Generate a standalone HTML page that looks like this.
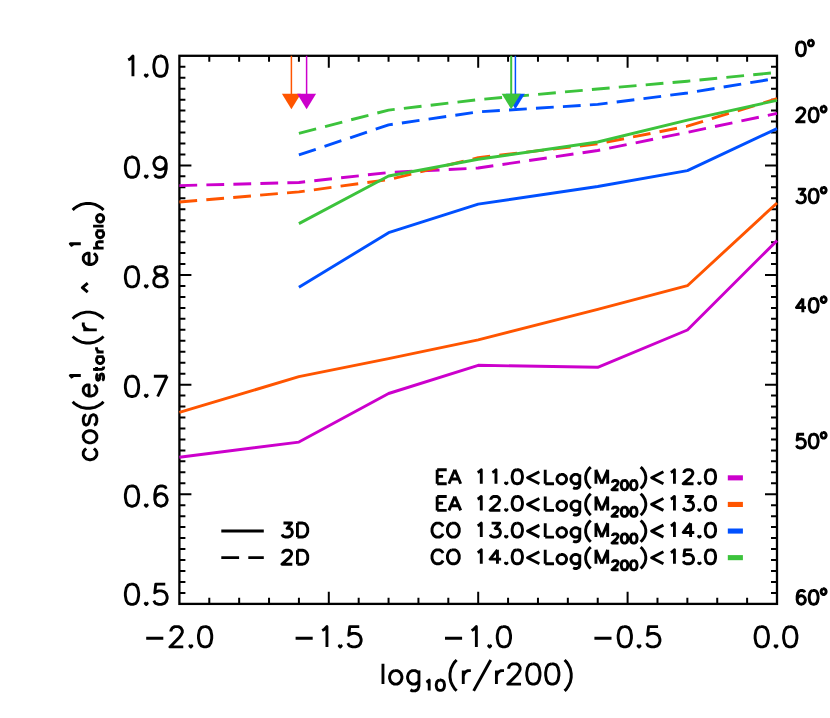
<!DOCTYPE html>
<html><head><meta charset="utf-8"><title>plot</title>
<style>html,body{margin:0;padding:0;background:#fff;font-family:"Liberation Sans",sans-serif;}svg{display:block}</style></head>
<body>
<svg width="830" height="718" viewBox="0 0 830 718">
<rect width="830" height="718" fill="#fff"/>
<clipPath id="cp"><rect x="178.2" y="54.6" width="600.0" height="550.5"/></clipPath>
<g fill="none" stroke="#000" stroke-width="2.3" stroke-linecap="butt">
<rect x="179.4" y="55.8" width="597.6" height="548.1"/>
<path stroke-width="2.0" d="M209.28 603.85 v-6.0 M209.28 55.80 v6.0 M239.16 603.85 v-6.0 M239.16 55.80 v6.0 M269.04 603.85 v-6.0 M269.04 55.80 v6.0 M298.92 603.85 v-6.0 M298.92 55.80 v6.0 M328.80 603.85 v-12.0 M328.80 55.80 v12.0 M358.68 603.85 v-6.0 M358.68 55.80 v6.0 M388.56 603.85 v-6.0 M388.56 55.80 v6.0 M418.44 603.85 v-6.0 M418.44 55.80 v6.0 M448.32 603.85 v-6.0 M448.32 55.80 v6.0 M478.20 603.85 v-12.0 M478.20 55.80 v12.0 M508.08 603.85 v-6.0 M508.08 55.80 v6.0 M537.96 603.85 v-6.0 M537.96 55.80 v6.0 M567.84 603.85 v-6.0 M567.84 55.80 v6.0 M597.72 603.85 v-6.0 M597.72 55.80 v6.0 M627.60 603.85 v-12.0 M627.60 55.80 v12.0 M657.48 603.85 v-6.0 M657.48 55.80 v6.0 M687.36 603.85 v-6.0 M687.36 55.80 v6.0 M717.24 603.85 v-6.0 M717.24 55.80 v6.0 M747.12 603.85 v-6.0 M747.12 55.80 v6.0 M179.40 66.76 h6.0 M777.00 66.76 h-6.0 M179.40 77.72 h6.0 M777.00 77.72 h-6.0 M179.40 88.68 h6.0 M777.00 88.68 h-6.0 M179.40 99.64 h6.0 M777.00 99.64 h-6.0 M179.40 110.61 h6.0 M777.00 110.61 h-6.0 M179.40 121.57 h6.0 M777.00 121.57 h-6.0 M179.40 132.53 h6.0 M777.00 132.53 h-6.0 M179.40 143.49 h6.0 M777.00 143.49 h-6.0 M179.40 154.45 h6.0 M777.00 154.45 h-6.0 M179.40 165.41 h12.0 M777.00 165.41 h-12.0 M179.40 176.37 h6.0 M777.00 176.37 h-6.0 M179.40 187.33 h6.0 M777.00 187.33 h-6.0 M179.40 198.29 h6.0 M777.00 198.29 h-6.0 M179.40 209.25 h6.0 M777.00 209.25 h-6.0 M179.40 220.22 h6.0 M777.00 220.22 h-6.0 M179.40 231.18 h6.0 M777.00 231.18 h-6.0 M179.40 242.14 h6.0 M777.00 242.14 h-6.0 M179.40 253.10 h6.0 M777.00 253.10 h-6.0 M179.40 264.06 h6.0 M777.00 264.06 h-6.0 M179.40 275.02 h12.0 M777.00 275.02 h-12.0 M179.40 285.98 h6.0 M777.00 285.98 h-6.0 M179.40 296.94 h6.0 M777.00 296.94 h-6.0 M179.40 307.90 h6.0 M777.00 307.90 h-6.0 M179.40 318.86 h6.0 M777.00 318.86 h-6.0 M179.40 329.83 h6.0 M777.00 329.83 h-6.0 M179.40 340.79 h6.0 M777.00 340.79 h-6.0 M179.40 351.75 h6.0 M777.00 351.75 h-6.0 M179.40 362.71 h6.0 M777.00 362.71 h-6.0 M179.40 373.67 h6.0 M777.00 373.67 h-6.0 M179.40 384.63 h12.0 M777.00 384.63 h-12.0 M179.40 395.59 h6.0 M777.00 395.59 h-6.0 M179.40 406.55 h6.0 M777.00 406.55 h-6.0 M179.40 417.51 h6.0 M777.00 417.51 h-6.0 M179.40 428.47 h6.0 M777.00 428.47 h-6.0 M179.40 439.44 h6.0 M777.00 439.44 h-6.0 M179.40 450.40 h6.0 M777.00 450.40 h-6.0 M179.40 461.36 h6.0 M777.00 461.36 h-6.0 M179.40 472.32 h6.0 M777.00 472.32 h-6.0 M179.40 483.28 h6.0 M777.00 483.28 h-6.0 M179.40 494.24 h12.0 M777.00 494.24 h-12.0 M179.40 505.20 h6.0 M777.00 505.20 h-6.0 M179.40 516.16 h6.0 M777.00 516.16 h-6.0 M179.40 527.12 h6.0 M777.00 527.12 h-6.0 M179.40 538.08 h6.0 M777.00 538.08 h-6.0 M179.40 549.05 h6.0 M777.00 549.05 h-6.0 M179.40 560.01 h6.0 M777.00 560.01 h-6.0 M179.40 570.97 h6.0 M777.00 570.97 h-6.0 M179.40 581.93 h6.0 M777.00 581.93 h-6.0 M179.40 592.89 h6.0 M777.00 592.89 h-6.0"/>
</g>
<g fill="none" stroke-width="2.9" stroke-linejoin="round" stroke-linecap="butt" clip-path="url(#cp)">
<path stroke="#CC00CC" d="M179.4 457.3 L298.9 442.1 L388.6 393.5 L478.2 365.3 L597.7 367.3 L687.4 330.0 L777.0 240.6"/>
<path stroke="#CC00CC" stroke-dasharray="17.8 9.2" d="M179.4 185.6 L298.9 182.5 L388.6 172.5 L478.2 168.0 L597.7 150.5 L687.4 132.3 L777.0 113.4"/>
<path stroke="#FF5500" d="M179.4 412.4 L298.9 376.7 L388.6 358.7 L478.2 339.9 L597.7 309.3 L687.4 285.7 L777.0 203.0"/>
<path stroke="#FF5500" stroke-dasharray="17.8 9.2" d="M179.4 202.0 L298.9 191.9 L388.6 179.6 L478.2 157.7 L597.7 143.9 L687.4 126.2 L777.0 98.7"/>
<path stroke="#0050FF" d="M298.9 287.3 L388.6 232.7 L478.2 204.1 L597.7 186.5 L687.4 170.6 L777.0 128.6"/>
<path stroke="#0050FF" stroke-dasharray="17.8 9.2" d="M298.9 154.9 L388.6 124.9 L478.2 111.9 L597.7 104.4 L687.4 93.0 L777.0 78.3"/>
<path stroke="#3CC33C" d="M298.9 223.6 L388.6 176.0 L478.2 159.3 L597.7 142.0 L687.4 120.1 L777.0 100.3"/>
<path stroke="#3CC33C" stroke-dasharray="17.8 9.2" d="M298.9 133.3 L388.6 110.1 L478.2 99.7 L597.7 89.0 L687.4 81.2 L777.0 72.4"/>
</g>
<path d="M291.4 55.8 V95" stroke="#FF5500" stroke-width="1.5" fill="none"/>
<path d="M281.9 93.8 h19 l-9.5 15.5 z" fill="#FF5500"/>
<path d="M306.6 55.8 V95" stroke="#CC00CC" stroke-width="1.5" fill="none"/>
<path d="M297.1 93.8 h19 l-9.5 15.5 z" fill="#CC00CC"/>
<path d="M515.4 55.8 V95" stroke="#0050FF" stroke-width="1.5" fill="none"/>
<path d="M505.9 93.8 h19 l-9.5 15.5 z" fill="#0050FF"/>
<path d="M511.2 55.8 V95" stroke="#3CC33C" stroke-width="2.0" fill="none"/>
<path d="M501.7 93.8 h19 l-9.5 15.5 z" fill="#3CC33C"/>
<rect x="727.8" y="475.3" width="15.1" height="5.1" fill="#CC00CC"/>
<rect x="727.8" y="501.9" width="15.1" height="5.1" fill="#FF5500"/>
<rect x="727.8" y="528.5" width="15.1" height="5.1" fill="#0050FF"/>
<rect x="727.8" y="555.1" width="15.1" height="5.1" fill="#3CC33C"/>
<path d="M221.3 531.0 H263.8" stroke="#000" stroke-width="2.9" fill="none"/>
<path d="M221.3 557.6 H263.8" stroke="#000" stroke-width="2.9" stroke-dasharray="17.8 9.2" fill="none"/>
<path fill="none" stroke="#000" stroke-width="2.9" stroke-linecap="butt" stroke-linejoin="round" d="M128.20 59.89 L130.10 58.93 L132.95 56.03 L132.95 76.30 M146.25 74.37 L145.30 75.33 L146.25 76.30 L147.20 75.33 L146.25 74.37 M159.55 56.03 L156.70 57.00 L154.80 59.89 L153.85 64.72 L153.85 67.61 L154.80 72.44 L156.70 75.33 L159.55 76.30 L161.45 76.30 L164.30 75.33 L166.20 72.44 L167.15 67.61 L167.15 64.72 L166.20 59.89 L164.30 57.00 L161.45 56.03 L159.55 56.03 M131.05 157.04 L128.20 158.00 L126.30 160.90 L125.35 165.72 L125.35 168.62 L126.30 173.44 L128.20 176.34 L131.05 177.30 L132.95 177.30 L135.80 176.34 L137.70 173.44 L138.65 168.62 L138.65 165.72 L137.70 160.90 L135.80 158.00 L132.95 157.04 L131.05 157.04 M146.25 175.37 L145.30 176.34 L146.25 177.30 L147.20 176.34 L146.25 175.37 M166.20 163.79 L165.25 166.69 L163.35 168.62 L160.50 169.58 L159.55 169.58 L156.70 168.62 L154.80 166.69 L153.85 163.79 L153.85 162.83 L154.80 159.93 L156.70 158.00 L159.55 157.04 L160.50 157.04 L163.35 158.00 L165.25 159.93 L166.20 163.79 L166.20 168.62 L165.25 173.44 L163.35 176.34 L160.50 177.30 L158.60 177.30 L155.75 176.34 L154.80 174.41 M131.05 266.63 L128.20 267.60 L126.30 270.50 L125.35 275.32 L125.35 278.21 L126.30 283.04 L128.20 285.94 L131.05 286.90 L132.95 286.90 L135.80 285.94 L137.70 283.04 L138.65 278.21 L138.65 275.32 L137.70 270.50 L135.80 267.60 L132.95 266.63 L131.05 266.63 M146.25 284.97 L145.30 285.94 L146.25 286.90 L147.20 285.94 L146.25 284.97 M158.60 266.63 L155.75 267.60 L154.80 269.53 L154.80 271.46 L155.75 273.39 L157.65 274.35 L161.45 275.32 L164.30 276.28 L166.20 278.21 L167.15 280.14 L167.15 283.04 L166.20 284.97 L165.25 285.94 L162.40 286.90 L158.60 286.90 L155.75 285.94 L154.80 284.97 L153.85 283.04 L153.85 280.14 L154.80 278.21 L156.70 276.28 L159.55 275.32 L163.35 274.35 L165.25 273.39 L166.20 271.46 L166.20 269.53 L165.25 267.60 L162.40 266.63 L158.60 266.63 M131.05 376.24 L128.20 377.20 L126.30 380.10 L125.35 384.92 L125.35 387.81 L126.30 392.64 L128.20 395.54 L131.05 396.50 L132.95 396.50 L135.80 395.54 L137.70 392.64 L138.65 387.81 L138.65 384.92 L137.70 380.10 L135.80 377.20 L132.95 376.24 L131.05 376.24 M146.25 394.57 L145.30 395.54 L146.25 396.50 L147.20 395.54 L146.25 394.57 M167.15 376.24 L157.65 396.50 M153.85 376.24 L167.15 376.24 M131.05 485.94 L128.20 486.90 L126.30 489.79 L125.35 494.62 L125.35 497.51 L126.30 502.34 L128.20 505.24 L131.05 506.20 L132.95 506.20 L135.80 505.24 L137.70 502.34 L138.65 497.51 L138.65 494.62 L137.70 489.79 L135.80 486.90 L132.95 485.94 L131.05 485.94 M146.25 504.27 L145.30 505.24 L146.25 506.20 L147.20 505.24 L146.25 504.27 M166.20 488.83 L165.25 486.90 L162.40 485.94 L160.50 485.94 L157.65 486.90 L155.75 489.79 L154.80 494.62 L154.80 499.44 L155.75 503.31 L157.65 505.24 L160.50 506.20 L161.45 506.20 L164.30 505.24 L166.20 503.31 L167.15 500.41 L167.15 499.44 L166.20 496.55 L164.30 494.62 L161.45 493.65 L160.50 493.65 L157.65 494.62 L155.75 496.55 L154.80 499.44 M131.05 584.13 L128.20 585.10 L126.30 588.00 L125.35 592.82 L125.35 595.72 L126.30 600.54 L128.20 603.43 L131.05 604.40 L132.95 604.40 L135.80 603.43 L137.70 600.54 L138.65 595.72 L138.65 592.82 L137.70 588.00 L135.80 585.10 L132.95 584.13 L131.05 584.13 M146.25 602.47 L145.30 603.43 L146.25 604.40 L147.20 603.43 L146.25 602.47 M165.25 584.13 L155.75 584.13 L154.80 592.82 L155.75 591.86 L158.60 590.89 L161.45 590.89 L164.30 591.86 L166.20 593.78 L167.15 596.68 L167.15 598.61 L166.20 601.50 L164.30 603.43 L161.45 604.40 L158.60 604.40 L155.75 603.43 L154.80 602.47 L153.85 600.54 M146.20 638.22 L163.30 638.22 M170.90 631.46 L170.90 630.50 L171.85 628.56 L172.80 627.60 L174.70 626.63 L178.50 626.63 L180.40 627.60 L181.35 628.56 L182.30 630.50 L182.30 632.42 L181.35 634.36 L179.45 637.25 L169.95 646.90 L183.25 646.90 M190.85 644.97 L189.90 645.93 L190.85 646.90 L191.80 645.93 L190.85 644.97 M204.15 626.63 L201.30 627.60 L199.40 630.50 L198.45 635.32 L198.45 638.22 L199.40 643.04 L201.30 645.93 L204.15 646.90 L206.05 646.90 L208.90 645.93 L210.80 643.04 L211.75 638.22 L211.75 635.32 L210.80 630.50 L208.90 627.60 L206.05 626.63 L204.15 626.63 M295.60 638.22 L312.70 638.22 M322.20 630.50 L324.10 629.53 L326.95 626.63 L326.95 646.90 M340.25 644.97 L339.30 645.93 L340.25 646.90 L341.20 645.93 L340.25 644.97 M359.25 626.63 L349.75 626.63 L348.80 635.32 L349.75 634.36 L352.60 633.39 L355.45 633.39 L358.30 634.36 L360.20 636.28 L361.15 639.18 L361.15 641.11 L360.20 644.00 L358.30 645.93 L355.45 646.90 L352.60 646.90 L349.75 645.93 L348.80 644.97 L347.85 643.04 M445.00 638.22 L462.10 638.22 M471.60 630.50 L473.50 629.53 L476.35 626.63 L476.35 646.90 M489.65 644.97 L488.70 645.93 L489.65 646.90 L490.60 645.93 L489.65 644.97 M502.95 626.63 L500.10 627.60 L498.20 630.50 L497.25 635.32 L497.25 638.22 L498.20 643.04 L500.10 645.93 L502.95 646.90 L504.85 646.90 L507.70 645.93 L509.60 643.04 L510.55 638.22 L510.55 635.32 L509.60 630.50 L507.70 627.60 L504.85 626.63 L502.95 626.63 M594.40 638.22 L611.50 638.22 M623.85 626.63 L621.00 627.60 L619.10 630.50 L618.15 635.32 L618.15 638.22 L619.10 643.04 L621.00 645.93 L623.85 646.90 L625.75 646.90 L628.60 645.93 L630.50 643.04 L631.45 638.22 L631.45 635.32 L630.50 630.50 L628.60 627.60 L625.75 626.63 L623.85 626.63 M639.05 644.97 L638.10 645.93 L639.05 646.90 L640.00 645.93 L639.05 644.97 M658.05 626.63 L648.55 626.63 L647.60 635.32 L648.55 634.36 L651.40 633.39 L654.25 633.39 L657.10 634.36 L659.00 636.28 L659.95 639.18 L659.95 641.11 L659.00 644.00 L657.10 645.93 L654.25 646.90 L651.40 646.90 L648.55 645.93 L647.60 644.97 L646.65 643.04 M760.80 626.63 L757.95 627.60 L756.05 630.50 L755.10 635.32 L755.10 638.22 L756.05 643.04 L757.95 645.93 L760.80 646.90 L762.70 646.90 L765.55 645.93 L767.45 643.04 L768.40 638.22 L768.40 635.32 L767.45 630.50 L765.55 627.60 L762.70 626.63 L760.80 626.63 M776.00 644.97 L775.05 645.93 L776.00 646.90 L776.95 645.93 L776.00 644.97 M789.30 626.63 L786.45 627.60 L784.55 630.50 L783.60 635.32 L783.60 638.22 L784.55 643.04 L786.45 645.93 L789.30 646.90 L791.20 646.90 L794.05 645.93 L795.95 643.04 L796.90 638.22 L796.90 635.32 L795.95 630.50 L794.05 627.60 L791.20 626.63 L789.30 626.63 M382.97 663.84 L382.97 684.10 M394.33 670.59 L392.44 671.56 L390.54 673.49 L389.60 676.38 L389.60 678.31 L390.54 681.21 L392.44 683.13 L394.33 684.10 L397.17 684.10 L399.07 683.13 L400.96 681.21 L401.91 678.31 L401.91 676.38 L400.96 673.49 L399.07 671.56 L397.17 670.59 L394.33 670.59 M418.95 670.59 L418.95 686.03 L418.01 688.93 L417.06 689.89 L415.17 690.86 L412.33 690.86 L410.43 689.89 M418.95 673.49 L417.06 671.56 L415.17 670.59 L412.33 670.59 L410.43 671.56 L408.54 673.49 L407.59 676.38 L407.59 678.31 L408.54 681.21 L410.43 683.13 L412.33 684.10 L415.17 684.10 L417.06 683.13 L418.95 681.21 M426.27 682.03 L427.44 681.54 L429.20 680.06 L429.20 690.40 M439.77 680.06 L438.01 680.56 L436.83 682.03 L436.25 684.49 L436.25 685.97 L436.83 688.43 L438.01 689.91 L439.77 690.40 L440.94 690.40 L442.70 689.91 L443.88 688.43 L444.47 685.97 L444.47 684.49 L443.88 682.03 L442.70 680.56 L440.94 680.06 L439.77 680.06 M456.64 659.98 L454.75 661.90 L452.86 664.80 L450.96 668.66 L450.02 673.49 L450.02 677.35 L450.96 682.17 L452.86 686.03 L454.75 688.93 L456.64 690.86 M463.27 670.59 L463.27 684.10 M463.27 676.38 L464.22 673.49 L466.11 671.56 L468.01 670.59 L470.85 670.59 M490.74 659.98 L473.69 690.86 M496.42 670.59 L496.42 684.10 M496.42 676.38 L497.37 673.49 L499.26 671.56 L501.15 670.59 L503.99 670.59 M508.73 668.66 L508.73 667.70 L509.68 665.76 L510.62 664.80 L512.52 663.84 L516.31 663.84 L518.20 664.80 L519.15 665.76 L520.09 667.70 L520.09 669.62 L519.15 671.56 L517.25 674.45 L507.78 684.10 L521.04 684.10 M532.40 663.84 L529.56 664.80 L527.67 667.70 L526.72 672.52 L526.72 675.42 L527.67 680.24 L529.56 683.13 L532.40 684.10 L534.30 684.10 L537.14 683.13 L539.03 680.24 L539.98 675.42 L539.98 672.52 L539.03 667.70 L537.14 664.80 L534.30 663.84 L532.40 663.84 M551.34 663.84 L548.50 664.80 L546.61 667.70 L545.66 672.52 L545.66 675.42 L546.61 680.24 L548.50 683.13 L551.34 684.10 L553.24 684.10 L556.08 683.13 L557.97 680.24 L558.92 675.42 L558.92 672.52 L557.97 667.70 L556.08 664.80 L553.24 663.84 L551.34 663.84 M564.60 659.98 L566.50 661.90 L568.39 664.80 L570.28 668.66 L571.23 673.49 L571.23 677.35 L570.28 682.17 L568.39 686.03 L566.50 688.93 L564.60 690.86 M86.19 448.48 L84.25 450.35 L83.29 452.21 L83.29 455.02 L84.25 456.89 L86.19 458.76 L89.08 459.69 L91.01 459.69 L93.91 458.76 L95.83 456.89 L96.80 455.02 L96.80 452.21 L95.83 450.35 L93.91 448.48 M83.29 438.19 L84.25 440.06 L86.19 441.93 L89.08 442.87 L91.01 442.87 L93.91 441.93 L95.83 440.06 L96.80 438.19 L96.80 435.38 L95.83 433.51 L93.91 431.64 L91.01 430.71 L89.08 430.71 L86.19 431.64 L84.25 433.51 L83.29 435.38 L83.29 438.19 M86.19 414.81 L84.25 415.75 L83.29 418.56 L83.29 421.36 L84.25 424.17 L86.19 425.10 L88.11 424.17 L89.08 422.30 L90.05 417.62 L91.01 415.75 L92.94 414.81 L93.91 414.81 L95.83 415.75 L96.80 418.56 L96.80 421.36 L95.83 424.17 L93.91 425.10 M72.67 401.73 L74.60 403.60 L77.50 405.46 L81.36 407.33 L86.19 408.27 L90.05 408.27 L94.87 407.33 L98.73 405.46 L101.62 403.60 L103.55 401.73 M89.08 396.12 L89.08 384.89 L87.15 384.89 L85.22 385.83 L84.25 386.76 L83.29 388.63 L83.29 391.44 L84.25 393.31 L86.19 395.18 L89.08 396.12 L91.01 396.12 L93.91 395.18 L95.83 393.31 L96.80 391.44 L96.80 388.63 L95.83 386.76 L93.91 384.89 M72.35 378.05 L71.85 377.00 L70.36 375.43 L80.80 375.43 M98.08 373.97 L97.08 374.55 L96.57 376.29 L96.57 378.03 L97.08 379.77 L98.08 380.35 L99.08 379.77 L99.59 378.61 L100.09 375.71 L100.59 374.55 L101.59 373.97 L102.09 373.97 L103.10 374.55 L103.60 376.29 L103.60 378.03 L103.10 379.77 L102.09 380.35 M93.06 369.34 L101.59 369.34 L103.10 368.76 L103.60 367.60 L103.60 366.44 M96.57 371.08 L96.57 367.02 M96.57 356.58 L103.60 356.58 M98.08 356.58 L97.08 357.74 L96.57 358.90 L96.57 360.64 L97.08 361.80 L98.08 362.96 L99.59 363.54 L100.59 363.54 L102.09 362.96 L103.10 361.80 L103.60 360.64 L103.60 358.90 L103.10 357.74 L102.09 356.58 M96.57 351.95 L103.60 351.95 M99.59 351.95 L98.08 351.37 L97.08 350.21 L96.57 349.05 L96.57 347.31 M72.67 336.44 L74.60 338.31 L77.50 340.18 L81.36 342.05 L86.19 342.99 L90.05 342.99 L94.87 342.05 L98.73 340.18 L101.62 338.31 L103.55 336.44 M83.29 329.90 L96.80 329.90 M89.08 329.90 L86.19 328.96 L84.25 327.09 L83.29 325.22 L83.29 322.42 M72.67 318.68 L74.60 316.81 L77.50 314.94 L81.36 313.07 L86.19 312.13 L90.05 312.13 L94.87 313.07 L98.73 314.94 L101.62 316.81 L103.55 318.68 M87.73 292.09 L82.37 287.60 L87.73 283.11 M89.08 264.50 L89.08 253.28 L87.15 253.28 L85.22 254.21 L84.25 255.15 L83.29 257.01 L83.29 259.82 L84.25 261.69 L86.19 263.56 L89.08 264.50 L91.01 264.50 L93.91 263.56 L95.83 261.69 L96.80 259.82 L96.80 257.01 L95.83 255.15 L93.91 253.28 M72.35 246.43 L71.85 245.38 L70.36 243.81 L80.80 243.81 M93.06 248.15 L103.60 248.15 M98.58 248.15 L97.08 246.41 L96.57 245.25 L96.57 243.51 L97.08 242.35 L98.58 241.77 L103.60 241.77 M96.57 230.76 L103.60 230.76 M98.08 230.76 L97.08 231.92 L96.57 233.08 L96.57 234.82 L97.08 235.98 L98.08 237.14 L99.59 237.72 L100.59 237.72 L102.09 237.14 L103.10 235.98 L103.60 234.82 L103.60 233.08 L103.10 231.92 L102.09 230.76 M93.06 226.12 L103.60 226.12 M96.57 219.17 L97.08 220.33 L98.08 221.49 L99.59 222.06 L100.59 222.06 L102.09 221.49 L103.10 220.33 L103.60 219.17 L103.60 217.43 L103.10 216.27 L102.09 215.11 L100.59 214.53 L99.59 214.53 L98.08 215.11 L97.08 216.27 L96.57 217.43 L96.57 219.17 M72.67 209.98 L74.60 208.11 L77.50 206.24 L81.36 204.37 L86.19 203.44 L90.05 203.44 L94.87 204.37 L98.73 206.24 L101.62 208.11 L103.55 209.98"/>
<path fill="none" stroke="#000" stroke-width="2.9" stroke-linecap="butt" stroke-linejoin="round" d="M800.32 41.94 L798.41 42.60 L797.14 44.56 L796.50 47.84 L796.50 49.80 L797.14 53.08 L798.41 55.04 L800.32 55.70 L801.59 55.70 L803.49 55.04 L804.76 53.08 L805.39 49.80 L805.39 47.84 L804.76 44.56 L803.49 42.60 L801.59 41.94 L800.32 41.94 M810.35 40.21 L809.59 40.62 L808.82 41.43 L808.44 42.65 L808.44 43.46 L808.82 44.68 L809.59 45.49 L810.35 45.90 L811.49 45.90 L812.25 45.49 L813.01 44.68 L813.40 43.46 L813.40 42.65 L813.01 41.43 L812.25 40.62 L811.49 40.21 L810.35 40.21 M797.14 111.32 L797.14 110.67 L797.77 109.36 L798.41 108.70 L799.68 108.05 L802.22 108.05 L803.49 108.70 L804.12 109.36 L804.76 110.67 L804.76 111.98 L804.12 113.29 L802.86 115.25 L796.50 121.80 L805.39 121.80 M813.01 108.05 L811.11 108.70 L809.84 110.67 L809.21 113.94 L809.21 115.91 L809.84 119.18 L811.11 121.15 L813.01 121.80 L814.28 121.80 L816.19 121.15 L817.46 119.18 L818.10 115.91 L818.10 113.94 L817.46 110.67 L816.19 108.70 L814.28 108.05 L813.01 108.05 M823.05 106.32 L822.29 106.72 L821.52 107.54 L821.14 108.75 L821.14 109.57 L821.52 110.78 L822.29 111.60 L823.05 112.00 L824.19 112.00 L824.95 111.60 L825.72 110.78 L826.10 109.57 L826.10 108.75 L825.72 107.54 L824.95 106.72 L824.19 106.32 L823.05 106.32 M797.77 189.09 L804.76 189.09 L800.95 194.33 L802.86 194.33 L804.12 194.99 L804.76 195.64 L805.39 197.61 L805.39 198.92 L804.76 200.88 L803.49 202.19 L801.59 202.85 L799.68 202.85 L797.77 202.19 L797.14 201.54 L796.50 200.23 M813.01 189.09 L811.11 189.75 L809.84 191.71 L809.21 194.99 L809.21 196.95 L809.84 200.23 L811.11 202.19 L813.01 202.85 L814.28 202.85 L816.19 202.19 L817.46 200.23 L818.10 196.95 L818.10 194.99 L817.46 191.71 L816.19 189.75 L814.28 189.09 L813.01 189.09 M823.05 187.36 L822.29 187.77 L821.52 188.58 L821.14 189.80 L821.14 190.61 L821.52 191.83 L822.29 192.64 L823.05 193.05 L824.19 193.05 L824.95 192.64 L825.72 191.83 L826.10 190.61 L826.10 189.80 L825.72 188.58 L824.95 187.77 L824.19 187.36 L823.05 187.36 M802.86 298.48 L796.50 307.65 L806.03 307.65 M802.86 298.48 L802.86 312.24 M813.01 298.48 L811.11 299.14 L809.84 301.10 L809.21 304.38 L809.21 306.34 L809.84 309.62 L811.11 311.58 L813.01 312.24 L814.28 312.24 L816.19 311.58 L817.46 309.62 L818.10 306.34 L818.10 304.38 L817.46 301.10 L816.19 299.14 L814.28 298.48 L813.01 298.48 M823.05 296.75 L822.29 297.16 L821.52 297.97 L821.14 299.19 L821.14 300.00 L821.52 301.22 L822.29 302.03 L823.05 302.44 L824.19 302.44 L824.95 302.03 L825.72 301.22 L826.10 300.00 L826.10 299.19 L825.72 297.97 L824.95 297.16 L824.19 296.75 L823.05 296.75 M804.12 434.19 L797.77 434.19 L797.14 440.08 L797.77 439.43 L799.68 438.77 L801.59 438.77 L803.49 439.43 L804.76 440.74 L805.39 442.70 L805.39 444.01 L804.76 445.98 L803.49 447.29 L801.59 447.94 L799.68 447.94 L797.77 447.29 L797.14 446.63 L796.50 445.32 M813.01 434.19 L811.11 434.84 L809.84 436.81 L809.21 440.08 L809.21 442.05 L809.84 445.32 L811.11 447.29 L813.01 447.94 L814.28 447.94 L816.19 447.29 L817.46 445.32 L818.10 442.05 L818.10 440.08 L817.46 436.81 L816.19 434.84 L814.28 434.19 L813.01 434.19 M823.05 432.46 L822.29 432.86 L821.52 433.67 L821.14 434.89 L821.14 435.70 L821.52 436.92 L822.29 437.73 L823.05 438.14 L824.19 438.14 L824.95 437.73 L825.72 436.92 L826.10 435.70 L826.10 434.89 L825.72 433.67 L824.95 432.86 L824.19 432.46 L823.05 432.46 M804.76 592.46 L804.12 591.15 L802.22 590.49 L800.95 590.49 L799.05 591.15 L797.77 593.11 L797.14 596.39 L797.14 599.66 L797.77 602.28 L799.05 603.59 L800.95 604.25 L801.59 604.25 L803.49 603.59 L804.76 602.28 L805.39 600.32 L805.39 599.66 L804.76 597.70 L803.49 596.39 L801.59 595.73 L800.95 595.73 L799.05 596.39 L797.77 597.70 L797.14 599.66 M813.01 590.49 L811.11 591.15 L809.84 593.11 L809.21 596.39 L809.21 598.35 L809.84 601.63 L811.11 603.59 L813.01 604.25 L814.28 604.25 L816.19 603.59 L817.46 601.63 L818.10 598.35 L818.10 596.39 L817.46 593.11 L816.19 591.15 L814.28 590.49 L813.01 590.49 M823.05 588.76 L822.29 589.17 L821.52 589.98 L821.14 591.20 L821.14 592.01 L821.52 593.23 L822.29 594.04 L823.05 594.45 L824.19 594.45 L824.95 594.04 L825.72 593.23 L826.10 592.01 L826.10 591.20 L825.72 589.98 L824.95 589.17 L824.19 588.76 L823.05 588.76 M437.18 469.74 L437.18 483.70 M437.18 469.74 L446.73 469.74 M437.18 476.38 L443.06 476.38 M437.18 483.70 L446.73 483.70 M454.82 469.74 L448.94 483.70 M454.82 469.74 L460.70 483.70 M451.14 479.05 L458.49 479.05 M477.60 472.39 L479.07 471.73 L481.28 469.74 L481.28 483.70 M492.30 472.39 L493.77 471.73 L495.98 469.74 L495.98 483.70 M506.27 482.37 L505.53 483.03 L506.27 483.70 L507.00 483.03 L506.27 482.37 M516.56 469.74 L514.35 470.40 L512.88 472.39 L512.15 475.72 L512.15 477.71 L512.88 481.04 L514.35 483.03 L516.56 483.70 L518.03 483.70 L520.23 483.03 L521.70 481.04 L522.44 477.71 L522.44 475.72 L521.70 472.39 L520.23 470.40 L518.03 469.74 L516.56 469.74 M539.34 471.73 L527.58 477.71 L539.34 483.70 M545.22 469.74 L545.22 483.70 M545.22 483.70 L554.04 483.70 M560.66 474.39 L559.19 475.06 L557.72 476.38 L556.98 478.38 L556.98 479.71 L557.72 481.70 L559.19 483.03 L560.66 483.70 L562.86 483.70 L564.33 483.03 L565.80 481.70 L566.54 479.71 L566.54 478.38 L565.80 476.38 L564.33 475.06 L562.86 474.39 L560.66 474.39 M579.77 474.39 L579.77 485.03 L579.03 487.02 L578.30 487.69 L576.83 488.35 L574.62 488.35 L573.15 487.69 M579.77 476.38 L578.30 475.06 L576.83 474.39 L574.62 474.39 L573.15 475.06 L571.68 476.38 L570.95 478.38 L570.95 479.71 L571.68 481.70 L573.15 483.03 L574.62 483.70 L576.83 483.70 L578.30 483.03 L579.77 481.70 M590.79 467.07 L589.32 468.40 L587.85 470.40 L586.38 473.06 L585.65 476.38 L585.65 479.05 L586.38 482.37 L587.85 485.03 L589.32 487.02 L590.79 488.35 M595.94 469.74 L595.94 483.70 M595.94 469.74 L601.82 483.70 M607.70 469.74 L601.82 483.70 M607.70 469.74 L607.70 483.70 M612.49 482.68 L612.49 482.24 L612.95 481.36 L613.42 480.92 L614.34 480.48 L616.19 480.48 L617.12 480.92 L617.58 481.36 L618.05 482.24 L618.05 483.12 L617.58 483.99 L616.66 485.31 L612.03 489.70 L618.51 489.70 M624.07 480.48 L622.68 480.92 L621.75 482.24 L621.29 484.43 L621.29 485.75 L621.75 487.94 L622.68 489.26 L624.07 489.70 L624.99 489.70 L626.38 489.26 L627.31 487.94 L627.77 485.75 L627.77 484.43 L627.31 482.24 L626.38 480.92 L624.99 480.48 L624.07 480.48 M633.33 480.48 L631.94 480.92 L631.01 482.24 L630.55 484.43 L630.55 485.75 L631.01 487.94 L631.94 489.26 L633.33 489.70 L634.25 489.70 L635.64 489.26 L636.57 487.94 L637.03 485.75 L637.03 484.43 L636.57 482.24 L635.64 480.92 L634.25 480.48 L633.33 480.48 M640.62 467.07 L642.10 468.40 L643.56 470.40 L645.03 473.06 L645.77 476.38 L645.77 479.05 L645.03 482.37 L643.56 485.03 L642.10 487.02 L640.62 488.35 M663.41 471.73 L651.65 477.71 L663.41 483.70 M670.76 472.39 L672.23 471.73 L674.43 469.74 L674.43 483.70 M683.99 473.06 L683.99 472.39 L684.72 471.06 L685.46 470.40 L686.93 469.74 L689.87 469.74 L691.34 470.40 L692.07 471.06 L692.81 472.39 L692.81 473.72 L692.07 475.06 L690.60 477.05 L683.25 483.70 L693.54 483.70 M699.42 482.37 L698.69 483.03 L699.42 483.70 L700.16 483.03 L699.42 482.37 M709.71 469.74 L707.51 470.40 L706.04 472.39 L705.30 475.72 L705.30 477.71 L706.04 481.04 L707.51 483.03 L709.71 483.70 L711.18 483.70 L713.39 483.03 L714.86 481.04 L715.59 477.71 L715.59 475.72 L714.86 472.39 L713.39 470.40 L711.18 469.74 L709.71 469.74 M437.18 496.44 L437.18 510.40 M437.18 496.44 L446.73 496.44 M437.18 503.08 L443.06 503.08 M437.18 510.40 L446.73 510.40 M454.82 496.44 L448.94 510.40 M454.82 496.44 L460.70 510.40 M451.14 505.75 L458.49 505.75 M477.60 499.09 L479.07 498.43 L481.28 496.44 L481.28 510.40 M490.83 499.76 L490.83 499.09 L491.57 497.76 L492.30 497.10 L493.77 496.44 L496.71 496.44 L498.18 497.10 L498.92 497.76 L499.65 499.09 L499.65 500.42 L498.92 501.75 L497.45 503.75 L490.10 510.40 L500.39 510.40 M506.27 509.07 L505.53 509.73 L506.27 510.40 L507.00 509.73 L506.27 509.07 M516.56 496.44 L514.35 497.10 L512.88 499.09 L512.15 502.42 L512.15 504.41 L512.88 507.74 L514.35 509.73 L516.56 510.40 L518.03 510.40 L520.23 509.73 L521.70 507.74 L522.44 504.41 L522.44 502.42 L521.70 499.09 L520.23 497.10 L518.03 496.44 L516.56 496.44 M539.34 498.43 L527.58 504.41 L539.34 510.40 M545.22 496.44 L545.22 510.40 M545.22 510.40 L554.04 510.40 M560.66 501.09 L559.19 501.75 L557.72 503.08 L556.98 505.08 L556.98 506.41 L557.72 508.40 L559.19 509.73 L560.66 510.40 L562.86 510.40 L564.33 509.73 L565.80 508.40 L566.54 506.41 L566.54 505.08 L565.80 503.08 L564.33 501.75 L562.86 501.09 L560.66 501.09 M579.77 501.09 L579.77 511.73 L579.03 513.73 L578.30 514.39 L576.83 515.05 L574.62 515.05 L573.15 514.39 M579.77 503.08 L578.30 501.75 L576.83 501.09 L574.62 501.09 L573.15 501.75 L571.68 503.08 L570.95 505.08 L570.95 506.41 L571.68 508.40 L573.15 509.73 L574.62 510.40 L576.83 510.40 L578.30 509.73 L579.77 508.40 M590.79 493.77 L589.32 495.10 L587.85 497.10 L586.38 499.76 L585.65 503.08 L585.65 505.75 L586.38 509.07 L587.85 511.73 L589.32 513.73 L590.79 515.05 M595.94 496.44 L595.94 510.40 M595.94 496.44 L601.82 510.40 M607.70 496.44 L601.82 510.40 M607.70 496.44 L607.70 510.40 M612.49 509.38 L612.49 508.94 L612.95 508.06 L613.42 507.62 L614.34 507.18 L616.19 507.18 L617.12 507.62 L617.58 508.06 L618.05 508.94 L618.05 509.82 L617.58 510.69 L616.66 512.01 L612.03 516.40 L618.51 516.40 M624.07 507.18 L622.68 507.62 L621.75 508.94 L621.29 511.13 L621.29 512.45 L621.75 514.64 L622.68 515.96 L624.07 516.40 L624.99 516.40 L626.38 515.96 L627.31 514.64 L627.77 512.45 L627.77 511.13 L627.31 508.94 L626.38 507.62 L624.99 507.18 L624.07 507.18 M633.33 507.18 L631.94 507.62 L631.01 508.94 L630.55 511.13 L630.55 512.45 L631.01 514.64 L631.94 515.96 L633.33 516.40 L634.25 516.40 L635.64 515.96 L636.57 514.64 L637.03 512.45 L637.03 511.13 L636.57 508.94 L635.64 507.62 L634.25 507.18 L633.33 507.18 M640.62 493.77 L642.10 495.10 L643.56 497.10 L645.03 499.76 L645.77 503.08 L645.77 505.75 L645.03 509.07 L643.56 511.73 L642.10 513.73 L640.62 515.05 M663.41 498.43 L651.65 504.41 L663.41 510.40 M670.76 499.09 L672.23 498.43 L674.43 496.44 L674.43 510.40 M684.72 496.44 L692.81 496.44 L688.40 501.75 L690.60 501.75 L692.07 502.42 L692.81 503.08 L693.54 505.08 L693.54 506.41 L692.81 508.40 L691.34 509.73 L689.13 510.40 L686.93 510.40 L684.72 509.73 L683.99 509.07 L683.25 507.74 M699.42 509.07 L698.69 509.73 L699.42 510.40 L700.16 509.73 L699.42 509.07 M709.71 496.44 L707.51 497.10 L706.04 499.09 L705.30 502.42 L705.30 504.41 L706.04 507.74 L707.51 509.73 L709.71 510.40 L711.18 510.40 L713.39 509.73 L714.86 507.74 L715.59 504.41 L715.59 502.42 L714.86 499.09 L713.39 497.10 L711.18 496.44 L709.71 496.44 M443.06 526.46 L442.32 525.13 L440.85 523.80 L439.38 523.13 L436.44 523.13 L434.97 523.80 L433.50 525.13 L432.77 526.46 L432.03 528.46 L432.03 531.78 L432.77 533.77 L433.50 535.11 L434.97 536.44 L436.44 537.10 L439.38 537.10 L440.85 536.44 L442.32 535.11 L443.06 533.77 M451.88 523.13 L450.41 523.80 L448.94 525.13 L448.20 526.46 L447.47 528.46 L447.47 531.78 L448.20 533.77 L448.94 535.11 L450.41 536.44 L451.88 537.10 L454.82 537.10 L456.29 536.44 L457.76 535.11 L458.49 533.77 L459.23 531.78 L459.23 528.46 L458.49 526.46 L457.76 525.13 L456.29 523.80 L454.82 523.13 L451.88 523.13 M477.60 525.80 L479.07 525.13 L481.28 523.13 L481.28 537.10 M491.57 523.13 L499.65 523.13 L495.24 528.46 L497.45 528.46 L498.92 529.12 L499.65 529.78 L500.39 531.78 L500.39 533.11 L499.65 535.11 L498.18 536.44 L495.98 537.10 L493.77 537.10 L491.57 536.44 L490.83 535.77 L490.10 534.44 M506.27 535.77 L505.53 536.44 L506.27 537.10 L507.00 536.44 L506.27 535.77 M516.56 523.13 L514.35 523.80 L512.88 525.80 L512.15 529.12 L512.15 531.12 L512.88 534.44 L514.35 536.44 L516.56 537.10 L518.03 537.10 L520.23 536.44 L521.70 534.44 L522.44 531.12 L522.44 529.12 L521.70 525.80 L520.23 523.80 L518.03 523.13 L516.56 523.13 M539.34 525.13 L527.58 531.12 L539.34 537.10 M545.22 523.13 L545.22 537.10 M545.22 537.10 L554.04 537.10 M560.66 527.79 L559.19 528.46 L557.72 529.78 L556.98 531.78 L556.98 533.11 L557.72 535.11 L559.19 536.44 L560.66 537.10 L562.86 537.10 L564.33 536.44 L565.80 535.11 L566.54 533.11 L566.54 531.78 L565.80 529.78 L564.33 528.46 L562.86 527.79 L560.66 527.79 M579.77 527.79 L579.77 538.43 L579.03 540.43 L578.30 541.09 L576.83 541.75 L574.62 541.75 L573.15 541.09 M579.77 529.78 L578.30 528.46 L576.83 527.79 L574.62 527.79 L573.15 528.46 L571.68 529.78 L570.95 531.78 L570.95 533.11 L571.68 535.11 L573.15 536.44 L574.62 537.10 L576.83 537.10 L578.30 536.44 L579.77 535.11 M590.79 520.48 L589.32 521.81 L587.85 523.80 L586.38 526.46 L585.65 529.78 L585.65 532.45 L586.38 535.77 L587.85 538.43 L589.32 540.43 L590.79 541.75 M595.94 523.13 L595.94 537.10 M595.94 523.13 L601.82 537.10 M607.70 523.13 L601.82 537.10 M607.70 523.13 L607.70 537.10 M612.49 536.08 L612.49 535.64 L612.95 534.76 L613.42 534.32 L614.34 533.88 L616.19 533.88 L617.12 534.32 L617.58 534.76 L618.05 535.64 L618.05 536.52 L617.58 537.39 L616.66 538.71 L612.03 543.10 L618.51 543.10 M624.07 533.88 L622.68 534.32 L621.75 535.64 L621.29 537.83 L621.29 539.15 L621.75 541.34 L622.68 542.66 L624.07 543.10 L624.99 543.10 L626.38 542.66 L627.31 541.34 L627.77 539.15 L627.77 537.83 L627.31 535.64 L626.38 534.32 L624.99 533.88 L624.07 533.88 M633.33 533.88 L631.94 534.32 L631.01 535.64 L630.55 537.83 L630.55 539.15 L631.01 541.34 L631.94 542.66 L633.33 543.10 L634.25 543.10 L635.64 542.66 L636.57 541.34 L637.03 539.15 L637.03 537.83 L636.57 535.64 L635.64 534.32 L634.25 533.88 L633.33 533.88 M640.62 520.48 L642.10 521.81 L643.56 523.80 L645.03 526.46 L645.77 529.78 L645.77 532.45 L645.03 535.77 L643.56 538.43 L642.10 540.43 L640.62 541.75 M663.41 525.13 L651.65 531.12 L663.41 537.10 M670.76 525.80 L672.23 525.13 L674.43 523.13 L674.43 537.10 M690.60 523.13 L683.25 532.45 L694.28 532.45 M690.60 523.13 L690.60 537.10 M699.42 535.77 L698.69 536.44 L699.42 537.10 L700.16 536.44 L699.42 535.77 M709.71 523.13 L707.51 523.80 L706.04 525.80 L705.30 529.12 L705.30 531.12 L706.04 534.44 L707.51 536.44 L709.71 537.10 L711.18 537.10 L713.39 536.44 L714.86 534.44 L715.59 531.12 L715.59 529.12 L714.86 525.80 L713.39 523.80 L711.18 523.13 L709.71 523.13 M443.06 553.16 L442.32 551.83 L440.85 550.50 L439.38 549.83 L436.44 549.83 L434.97 550.50 L433.50 551.83 L432.77 553.16 L432.03 555.15 L432.03 558.48 L432.77 560.47 L433.50 561.80 L434.97 563.13 L436.44 563.80 L439.38 563.80 L440.85 563.13 L442.32 561.80 L443.06 560.47 M451.88 549.83 L450.41 550.50 L448.94 551.83 L448.20 553.16 L447.47 555.15 L447.47 558.48 L448.20 560.47 L448.94 561.80 L450.41 563.13 L451.88 563.80 L454.82 563.80 L456.29 563.13 L457.76 561.80 L458.49 560.47 L459.23 558.48 L459.23 555.15 L458.49 553.16 L457.76 551.83 L456.29 550.50 L454.82 549.83 L451.88 549.83 M477.60 552.50 L479.07 551.83 L481.28 549.83 L481.28 563.80 M497.45 549.83 L490.10 559.14 L501.12 559.14 M497.45 549.83 L497.45 563.80 M506.27 562.47 L505.53 563.13 L506.27 563.80 L507.00 563.13 L506.27 562.47 M516.56 549.83 L514.35 550.50 L512.88 552.50 L512.15 555.82 L512.15 557.81 L512.88 561.14 L514.35 563.13 L516.56 563.80 L518.03 563.80 L520.23 563.13 L521.70 561.14 L522.44 557.81 L522.44 555.82 L521.70 552.50 L520.23 550.50 L518.03 549.83 L516.56 549.83 M539.34 551.83 L527.58 557.81 L539.34 563.80 M545.22 549.83 L545.22 563.80 M545.22 563.80 L554.04 563.80 M560.66 554.49 L559.19 555.15 L557.72 556.48 L556.98 558.48 L556.98 559.81 L557.72 561.80 L559.19 563.13 L560.66 563.80 L562.86 563.80 L564.33 563.13 L565.80 561.80 L566.54 559.81 L566.54 558.48 L565.80 556.48 L564.33 555.15 L562.86 554.49 L560.66 554.49 M579.77 554.49 L579.77 565.13 L579.03 567.12 L578.30 567.79 L576.83 568.45 L574.62 568.45 L573.15 567.79 M579.77 556.48 L578.30 555.15 L576.83 554.49 L574.62 554.49 L573.15 555.15 L571.68 556.48 L570.95 558.48 L570.95 559.81 L571.68 561.80 L573.15 563.13 L574.62 563.80 L576.83 563.80 L578.30 563.13 L579.77 561.80 M590.79 547.17 L589.32 548.50 L587.85 550.50 L586.38 553.16 L585.65 556.48 L585.65 559.14 L586.38 562.47 L587.85 565.13 L589.32 567.12 L590.79 568.45 M595.94 549.83 L595.94 563.80 M595.94 549.83 L601.82 563.80 M607.70 549.83 L601.82 563.80 M607.70 549.83 L607.70 563.80 M612.49 562.78 L612.49 562.34 L612.95 561.46 L613.42 561.02 L614.34 560.58 L616.19 560.58 L617.12 561.02 L617.58 561.46 L618.05 562.34 L618.05 563.22 L617.58 564.09 L616.66 565.41 L612.03 569.80 L618.51 569.80 M624.07 560.58 L622.68 561.02 L621.75 562.34 L621.29 564.53 L621.29 565.85 L621.75 568.04 L622.68 569.36 L624.07 569.80 L624.99 569.80 L626.38 569.36 L627.31 568.04 L627.77 565.85 L627.77 564.53 L627.31 562.34 L626.38 561.02 L624.99 560.58 L624.07 560.58 M633.33 560.58 L631.94 561.02 L631.01 562.34 L630.55 564.53 L630.55 565.85 L631.01 568.04 L631.94 569.36 L633.33 569.80 L634.25 569.80 L635.64 569.36 L636.57 568.04 L637.03 565.85 L637.03 564.53 L636.57 562.34 L635.64 561.02 L634.25 560.58 L633.33 560.58 M640.62 547.17 L642.10 548.50 L643.56 550.50 L645.03 553.16 L645.77 556.48 L645.77 559.14 L645.03 562.47 L643.56 565.13 L642.10 567.12 L640.62 568.45 M663.41 551.83 L651.65 557.81 L663.41 563.80 M670.76 552.50 L672.23 551.83 L674.43 549.83 L674.43 563.80 M692.07 549.83 L684.72 549.83 L683.99 555.82 L684.72 555.15 L686.93 554.49 L689.13 554.49 L691.34 555.15 L692.81 556.48 L693.54 558.48 L693.54 559.81 L692.81 561.80 L691.34 563.13 L689.13 563.80 L686.93 563.80 L684.72 563.13 L683.99 562.47 L683.25 561.14 M699.42 562.47 L698.69 563.13 L699.42 563.80 L700.16 563.13 L699.42 562.47 M709.71 549.83 L707.51 550.50 L706.04 552.50 L705.30 555.82 L705.30 557.81 L706.04 561.14 L707.51 563.13 L709.71 563.80 L711.18 563.80 L713.39 563.13 L714.86 561.14 L715.59 557.81 L715.59 555.82 L714.86 552.50 L713.39 550.50 L711.18 549.83 L709.71 549.83 M283.48 523.03 L291.56 523.03 L287.15 528.36 L289.36 528.36 L290.82 529.02 L291.56 529.68 L292.30 531.68 L292.30 533.01 L291.56 535.00 L290.09 536.34 L287.88 537.00 L285.68 537.00 L283.48 536.34 L282.74 535.67 L282.00 534.34 M297.44 523.03 L297.44 537.00 M297.44 523.03 L302.59 523.03 L304.79 523.70 L306.26 525.03 L307.00 526.36 L307.73 528.36 L307.73 531.68 L307.00 533.67 L306.26 535.00 L304.79 536.34 L302.59 537.00 L297.44 537.00 M282.74 553.56 L282.74 552.90 L283.48 551.57 L284.21 550.90 L285.68 550.24 L288.62 550.24 L290.09 550.90 L290.82 551.57 L291.56 552.90 L291.56 554.23 L290.82 555.56 L289.36 557.55 L282.00 564.20 L292.30 564.20 M297.44 550.24 L297.44 564.20 M297.44 550.24 L302.59 550.24 L304.79 550.90 L306.26 552.23 L307.00 553.56 L307.73 555.56 L307.73 558.88 L307.00 560.88 L306.26 562.21 L304.79 563.54 L302.59 564.20 L297.44 564.20"/>
</svg>
</body></html>
